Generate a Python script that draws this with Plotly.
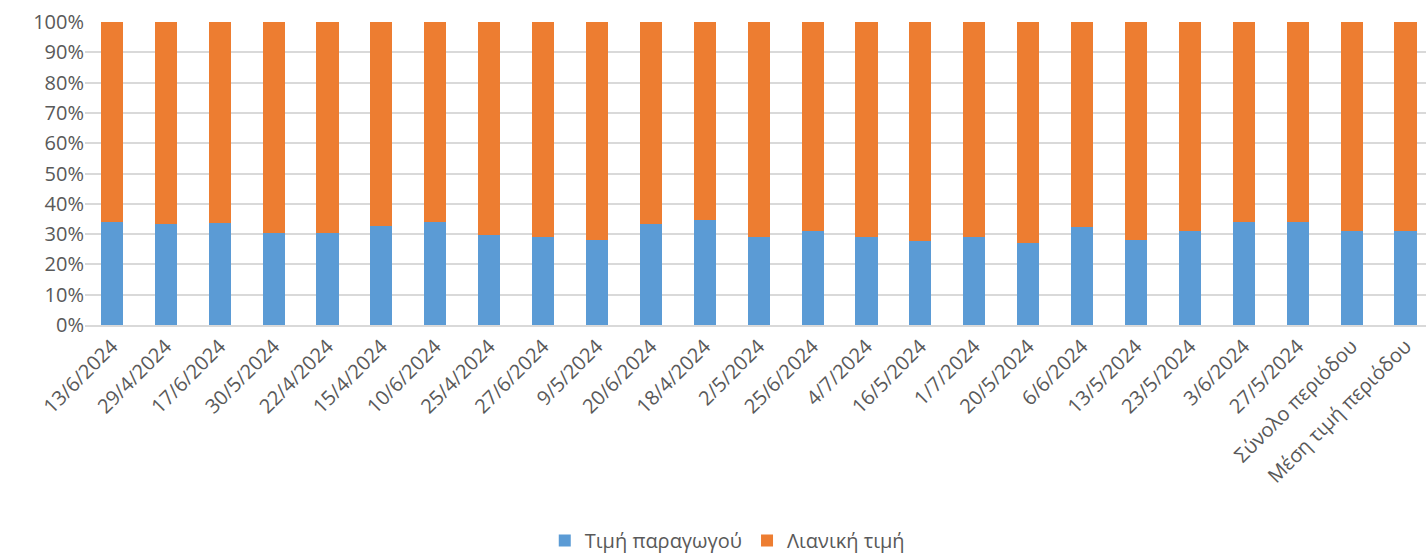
import plotly.graph_objects as go

# categories and shares (percent)
dates = ['13/6/2024', '29/4/2024', '17/6/2024', '30/5/2024', '22/4/2024', '15/4/2024',
         '10/6/2024', '25/4/2024', '27/6/2024', '9/5/2024', '20/6/2024', '18/4/2024',
         '2/5/2024', '25/6/2024', '4/7/2024', '16/5/2024', '1/7/2024', '20/5/2024',
         '6/6/2024', '13/5/2024', '23/5/2024', '3/6/2024', '27/5/2024',
         'Σύνολο περιόδου', 'Μέση τιμή περιόδου']
timi_paragogou = [33.9, 33.4, 33.6, 30.2, 30.4, 32.6, 33.9, 29.8, 28.9, 28.1, 33.2, 34.5,
                  28.9, 30.9, 29.0, 27.6, 29.0, 26.9, 32.4, 28.2, 31.0, 34.1, 34.1, 31.0, 31.0]
lianiki_timi = [66.1, 66.6, 66.4, 69.8, 69.6, 67.4, 66.1, 70.2, 71.1, 71.9, 66.8, 65.5,
                71.1, 69.1, 71.0, 72.4, 71.0, 73.1, 67.6, 71.8, 69.0, 65.9, 65.9, 69.0, 69.0]

fnt = 'Open Sans'
grey = '#595959'

fig = go.Figure()
fig.add_trace(go.Bar(x=dates, y=timi_paragogou, name='Τιμή παραγωγού',
                     marker=dict(color='#5B9BD5', line=dict(width=0)), width=0.41))
fig.add_trace(go.Bar(x=dates, y=lianiki_timi, name='Λιανική τιμή',
                     marker=dict(color='#ED7D31', line=dict(width=0)), width=0.41))

fig.update_layout(
    barmode='stack',
    width=1426, height=556,
    margin=dict(l=85, r=0, t=22, b=231, autoexpand=False),
    plot_bgcolor='white', paper_bgcolor='white',
    font=dict(family=fnt, size=20, color=grey),
    legend=dict(orientation='h', xref='container', yref='container',
                x=0.51, xanchor='center', y=0.028, yanchor='middle',
                font=dict(size=20, color=grey), traceorder='normal'),
)
fig.update_xaxes(type='category', range=[-0.5, 24.38], tickangle=-45, automargin=False,
                 showline=True, linecolor='#d9d9d9', linewidth=1.5,
                 ticks='', tickfont=dict(size=20, color=grey))
fig.update_yaxes(range=[0, 100], dtick=10, ticksuffix='%', showgrid=True, automargin=False,
                 gridcolor='#d9d9d9', gridwidth=1.5, zeroline=False,
                 ticks='', tickfont=dict(size=20, color=grey))

# drop the default page margin so the figure sits at the window's corner
fig.write_html("out.html", config={'displayModeBar': False},
               post_script="document.body.style.margin='0';")
